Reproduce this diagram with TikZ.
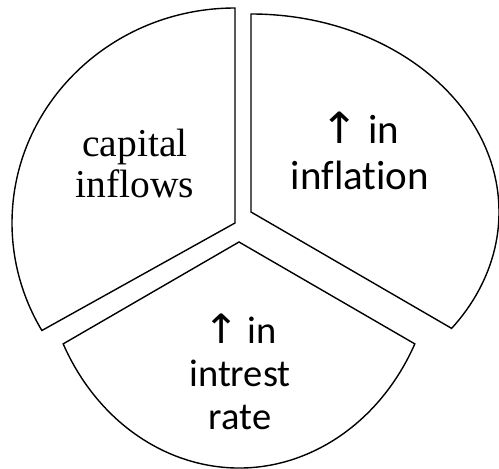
\documentclass[tikz,border=0pt]{standalone}
\usepackage{fontspec}
\newfontfamily\timesfont{Liberation Serif}
\newfontfamily\calibri[Ligatures=NoCommon]{Carlito}
\newfontfamily\arrowfont{DejaVu Sans}
\newcommand{\uparr}{\scalebox{1.12}[1.05]{\arrowfont ↑}}

\tikzset{
    sector/.style={draw=black, line width=1.4pt, fill=white, line join=miter},
    serifcap/.style={align=center, inner sep=0pt, font=\timesfont\fontsize{39.5}{41}\selectfont},
    sanscap/.style={align=center, inner sep=0pt, font=\calibri\fontsize{41}{46}\selectfont}
}

\begin{document}
\begin{tikzpicture}[x=1pt,y=1pt]
    \useasboundingbox (0,0) rectangle (499,469);

    % Apexes of the three sectors
    \coordinate (L) at (235,246);
    \coordinate (R) at (251,257);
    \coordinate (B) at (239,227);

    % Left sector
    \draw[sector] (L) -- ++(90:223pt and 215pt)
        arc[start angle=90, end angle=210, x radius=223pt, y radius=215pt] -- cycle;

    % Right sector
    \draw[sector] (R) -- ++(90:248pt and 198pt)
        arc[start angle=90, end angle=-36, x radius=248pt, y radius=198pt] -- cycle;

    % Bottom sector
    \draw[sector] (B) -- ++(206.8:197pt and 226pt)
        arc[start angle=206.8, end angle=333.2, x radius=197pt, y radius=226pt] -- cycle;

    % Labels
    \node[serifcap] (capital) at (135,306) {capital\\inflows};
    \node[sanscap] (inflation) at (360,318) {\uparr{} in\\inflation};
    \node[sanscap, font=\calibri\fontsize{38.5}{43}\selectfont] (interest) at (240,97) {\uparr{} in\\intrest\\rate};
\end{tikzpicture}
\end{document}
